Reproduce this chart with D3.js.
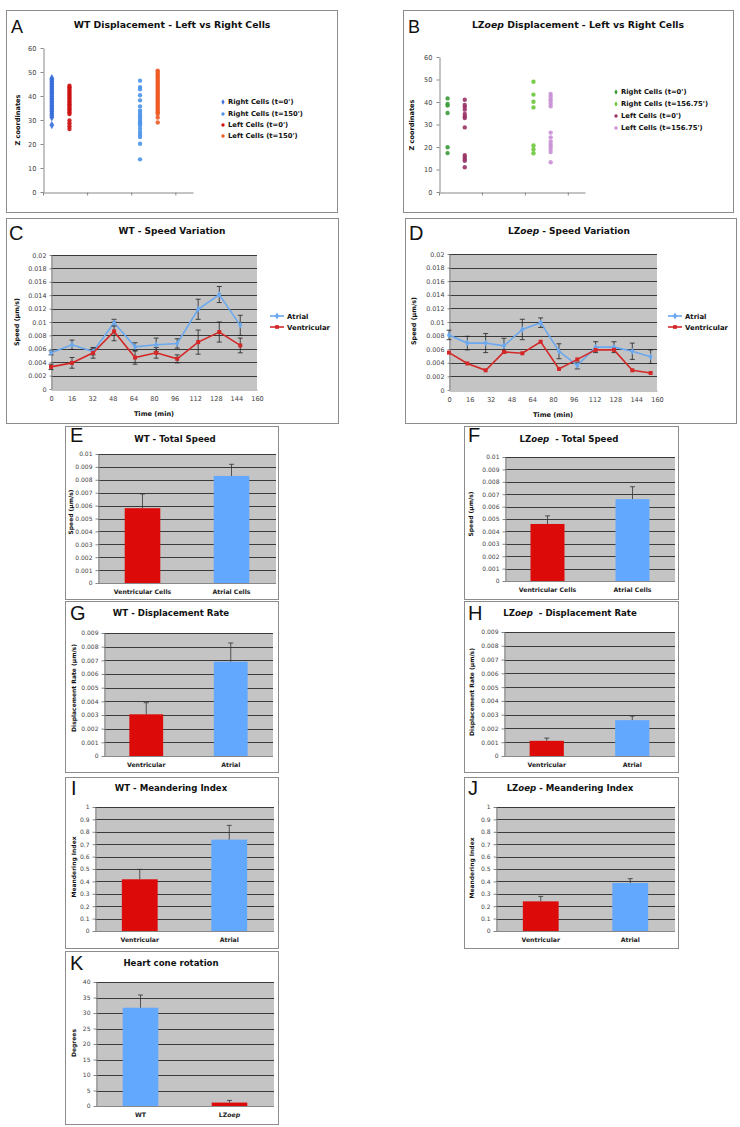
<!DOCTYPE html>
<html><head><meta charset="utf-8">
<script src="https://cdn.jsdelivr.net/npm/d3@7"></script>
<style>body{margin:0;background:#fff}svg{display:block}</style>
</head><body>
<svg id="c" width="740" height="1127"></svg>
<script>
// ---------------- DATA ----------------
// Panel A (WT) z coordinates
const aRightT0 = [47.4, 46.8, 46.1, 45.4, 44.7, 44.0, 43.3, 42.6, 41.9, 41.2, 40.5, 39.8, 39.1, 38.4, 37.7, 37.0, 36.3, 35.6, 34.9, 34.2, 33.5, 32.7, 31.9, 31.1, 27.9];
const aLeftT0 = [44.3, 43.6, 42.9, 42.2, 41.5, 40.8, 40.1, 39.4, 38.7, 38.0, 37.3, 36.6, 35.9, 35.2, 34.5, 33.8, 33.1, 32.5, 29.8, 28.6, 27.4, 26.2];
const aRightT150 = [46.4, 43.7, 42.8, 40.3, 38.2, 35.7, 34.0, 32.9, 31.9, 31.0, 30.1, 29.2, 28.6, 27.7, 26.4, 25.0, 23.9, 22.9, 20.1, 13.6];
const aLeftT150 = [50.6, 50.0, 49.3, 48.6, 47.9, 47.2, 46.5, 45.8, 45.1, 44.4, 43.7, 43.0, 42.3, 41.6, 40.9, 40.2, 39.5, 38.8, 38.1, 37.4, 36.7, 36.0, 35.3, 34.6, 33.9, 33.2, 32.5, 31.0, 29.0];
const aLabels = ["Right Cells (t=0')", "Right Cells (t=150')", "Left Cells (t=0')", "Left Cells (t=150')"];
// Panel B (LZoep) z coordinates
const bRightT0 = [41.6, 39.1, 38.4, 35.1, 19.9, 17.3];
const bLeftT0 = [41.0, 38.7, 37.8, 36.6, 34.7, 33.6, 32.9, 28.7, 16.4, 15.6, 14.7, 13.9, 11.0];
const bRightT156 = [49.0, 43.3, 40.1, 37.6, 20.7, 19.0, 17.2];
const bLeftT156 = [43.6, 42.5, 41.3, 40.4, 39.3, 38.1, 26.4, 24.3, 22.5, 21.3, 20.3, 19.1, 17.8, 13.2];
const bLabels = ["Right Cells (t=0')", "Right Cells (t=156.75')", "Left Cells (t=0')", "Left Cells (t=156.75')"];
const zTicks = [0, 10, 20, 30, 40, 50, 60];
// x position of each series (legend order: Right t0, Right t-end, Left t0, Left t-end)
const groupPos = [0.2, 2.2, 0.6, 2.6];
const groupTicks = [0, 1, 2, 3];

// Panel C (WT speed variation)
const cTime = [0, 16.3, 32.7, 49, 65.3, 81.7, 98, 114.3, 130.7, 147];
const cAtrial = [0.0054, 0.0066, 0.0056, 0.0099, 0.0063, 0.0066, 0.0068, 0.0119, 0.0141, 0.0095];
const cAtrialErr = [0.0003, 0.0007, 0.0005, 0.0005, 0.0006, 0.001, 0.0007, 0.0015, 0.0012, 0.0015];
const cVentricular = [0.0033, 0.0039, 0.0054, 0.0086, 0.0047, 0.0054, 0.0045, 0.007, 0.0085, 0.0065];
const cVentricularErr = [0.0004, 0.0008, 0.0008, 0.0014, 0.001, 0.0008, 0.0006, 0.0018, 0.0015, 0.0011];
// Panel D (LZoep speed variation)
const dTime = [0, 14.1, 28.2, 42.3, 56.4, 70.5, 84.6, 98.7, 112.8, 126.9, 141, 155.1];
const dAtrial = [0.0081, 0.0069, 0.0069, 0.0065, 0.0089, 0.0099, 0.0057, 0.0036, 0.0063, 0.0063, 0.0057, 0.0049];
const dAtrialErr = [0.0007, 0.001, 0.0014, 0.0011, 0.0015, 0.0007, 0.0011, 0.0005, 0.0008, 0.0008, 0.0012, 0.001];
const dVentricular = [0.0055, 0.0039, 0.0029, 0.0056, 0.0054, 0.0071, 0.0031, 0.0045, 0.0059, 0.0059, 0.0029, 0.0025];
const speedTicks = [0, 0.002, 0.004, 0.006, 0.008, 0.01, 0.012, 0.014, 0.016, 0.018, 0.02];
const timeTicks = [0, 16, 32, 48, 64, 80, 96, 112, 128, 144, 160];
const lineLabels = ["Atrial", "Ventricular"];

// Bar panels
const cellCats = ["Ventricular Cells", "Atrial Cells"];
const shortCats = ["Ventricular", "Atrial"];
const genoCats = ["WT", "LZoep"];
const eValues = [0.0058, 0.0083], eErr = [0.0011, 0.0009];
const fValues = [0.0046, 0.0066], fErr = [0.00065, 0.001];
const gValues = [0.00305, 0.0069], gErr = [0.00085, 0.00137];
const hValues = [0.0011, 0.0026], hErr = [0.0002, 0.0003];
const iValues = [0.417, 0.737], iErr = [0.08, 0.115];
const jValues = [0.239, 0.387], jErr = [0.04, 0.035];
const kValues = [31.7, 1.1], kErr = [4.1, 0.7];
const totalSpeedTicks = [0, 0.001, 0.002, 0.003, 0.004, 0.005, 0.006, 0.007, 0.008, 0.009, 0.01];
const dispTicks = [0, 0.001, 0.002, 0.003, 0.004, 0.005, 0.006, 0.007, 0.008, 0.009];
const meanderTicks = [0, 0.1, 0.2, 0.3, 0.4, 0.5, 0.6, 0.7, 0.8, 0.9, 1];
const degreeTicks = [0, 5, 10, 15, 20, 25, 30, 35, 40];

// ---------------- STYLE ----------------
const FONT = "'DejaVu Sans', Verdana, sans-serif";
const LFONT = "'Liberation Sans', Arial, sans-serif";
const RED = "#dd0a0a", BLUE = "#62a8ff", GRAY = "#c4c4c4", GRID = "#3a3a3a";
const fmt = d => String(+(+d).toFixed(4));

const svg = d3.select("#c");
svg.append("rect").attr("width", 740).attr("height", 1127).attr("fill", "#fff");

function box(x0, y0, x1, y1) {
  svg.append("rect").attr("x", x0 + 0.5).attr("y", y0 + 0.5)
    .attr("width", x1 - x0).attr("height", y1 - y0)
    .attr("fill", "#fff").attr("stroke", "#8c8c8c").attr("stroke-width", 1);
}
function letter(s, x, y, size) {
  svg.append("text").attr("x", x).attr("y", y).attr("font-family", LFONT)
    .attr("font-size", size).attr("fill", "#111").text(s);
}
function title(parts, cx, y, size) {
  const t = svg.append("text").attr("x", cx).attr("y", y).attr("text-anchor", "middle")
    .attr("font-family", FONT).attr("font-weight", "bold").attr("font-size", size)
    .attr("fill", "#111").style("white-space", "pre");
  parts.forEach(p => t.append("tspan").attr("font-style", p.i ? "italic" : "normal").text(p.t));
}
const lz = rest => [{t: "LZ"}, {t: "oep", i: 1}, {t: rest}];
function ylabel(s, x, cy, size) {
  svg.append("text").attr("transform", `translate(${x + 2.4},${cy}) rotate(-90)`)
    .attr("text-anchor", "middle").attr("font-family", FONT).attr("font-weight", "bold")
    .attr("font-size", size || 6.3).attr("fill", "#111").text(s);
}
function styleAxis(a, col) {
  a.select(".domain").attr("stroke", col || "#888");
  a.selectAll(".tick line").attr("stroke", col || "#888");
  a.selectAll("text").attr("font-family", FONT).attr("font-size", 6.2).attr("fill", "#444");
}

// ---------------- SCATTER PANELS ----------------
function scatterPanel(c, series, labels) {
  const g = svg.append("g");
  const x = d3.scaleLinear().domain([0, 3.4]).range([c.x0, c.x1]);
  const y = d3.scaleLinear().domain([0, 60]).range([c.yb, c.yt]);
  const ay = g.append("g").attr("transform", `translate(${c.x0 + 0.5},0)`)
    .call(d3.axisLeft(y).tickValues(zTicks).tickSize(3).tickSizeOuter(0).tickPadding(4).tickFormat(fmt));
  const ax = g.append("g").attr("transform", `translate(0,${c.yb + 0.5})`)
    .call(d3.axisBottom(x).tickValues(groupTicks).tickSize(3).tickSizeOuter(0).tickFormat(""));
  styleAxis(ay); styleAxis(ax);
  ay.selectAll("text").attr("font-size", 6.6);
  series.forEach((s, k) => {
    g.append("g").selectAll("path").data(s.values).join("path")
      .attr("d", d3.symbol(s.shape, s.shape === d3.symbolDiamond ? 20 : 15)())
      .attr("transform", d => `translate(${x(groupPos[k])},${y(d)})`)
      .attr("fill", s.color).attr("fill-opacity", 0.9);
    const ly = c.legY[k];
    g.append("path").attr("d", d3.symbol(s.legShape || d3.symbolCircle, 9)())
      .attr("transform", `translate(${c.legX},${ly})`).attr("fill", s.color);
    g.append("text").attr("x", c.legX + 5).attr("y", ly + 2.4)
      .attr("font-family", FONT).attr("font-weight", "bold").attr("font-size", 6.8)
      .attr("fill", "#111").text(labels[k]);
  });
}

box(6, 10, 337, 212);
letter("A", 11, 33, 18);
title([{t: "WT Displacement - Left vs Right Cells"}], 172, 28, 9.3);
ylabel("Z coordinates", 18, 120, 6.6);
scatterPanel({x0: 43, x1: 193, yb: 192, yt: 48, legX: 223, legY: [102, 114, 125, 136]}, [
  {values: aRightT0, color: "#3a6fdc", shape: d3.symbolDiamond, legShape: d3.symbolDiamond},
  {values: aRightT150, color: "#4c95ea", shape: d3.symbolCircle},
  {values: aLeftT0, color: "#cc1010", shape: d3.symbolCircle},
  {values: aLeftT150, color: "#ee5a24", shape: d3.symbolCircle}
], aLabels);

box(403, 10, 733, 212);
letter("B", 408, 33, 18);
title(lz(" Displacement - Left vs Right Cells"), 578, 28, 9.3);
ylabel("Z coordinates", 412, 125, 6.6);
scatterPanel({x0: 439, x1: 585, yb: 192, yt: 57, legX: 616, legY: [92, 104, 116, 128]}, [
  {values: bRightT0, color: "#3a9a3a", shape: d3.symbolCircle, legShape: d3.symbolDiamond},
  {values: bRightT156, color: "#6cc63a", shape: d3.symbolCircle, legShape: d3.symbolDiamond},
  {values: bLeftT0, color: "#993366", shape: d3.symbolCircle},
  {values: bLeftT156, color: "#c98fd6", shape: d3.symbolCircle, legShape: d3.symbolSquare}
], bLabels);

// ---------------- LINE PANELS ----------------
function linePanel(c, time, series) {
  const g = svg.append("g");
  const x = d3.scaleLinear().domain([0, 160]).range([c.x0, c.x1]);
  const y = d3.scaleLinear().domain([0, 0.02]).range([c.yb, c.yt]);
  g.append("rect").attr("x", c.x0).attr("y", c.yt).attr("width", c.x1 - c.x0)
    .attr("height", c.yb - c.yt).attr("fill", GRAY);
  g.append("g").selectAll("line").data(speedTicks.slice(1)).join("line")
    .attr("x1", c.x0).attr("x2", c.x1).attr("y1", d => Math.round(y(d)) + 0.5).attr("y2", d => Math.round(y(d)) + 0.5)
    .attr("stroke", GRID).attr("stroke-width", 1);
  const ay = g.append("g").attr("transform", `translate(${c.x0 + 0.5},0)`)
    .call(d3.axisLeft(y).tickValues(speedTicks).tickSize(2).tickSizeOuter(0).tickPadding(3).tickFormat(fmt));
  const ax = g.append("g").attr("transform", `translate(0,${c.yb + 0.5})`)
    .call(d3.axisBottom(x).tickValues(timeTicks).tickSize(0).tickSizeOuter(0).tickPadding(7).tickFormat(fmt));
  styleAxis(ay); styleAxis(ax);
  ax.selectAll("text").attr("font-size", 6.6);
  ay.selectAll("text").attr("font-size", 6.4);
  series.forEach(s => {
    const pts = time.map((t, i) => [t, s.values[i]]);
    g.append("path").datum(pts).attr("fill", "none").attr("stroke", s.color).attr("stroke-width", 1.6)
      .attr("d", d3.line().x(d => x(d[0])).y(d => y(d[1])));
    if (s.err) {
      const eg = g.append("g").attr("stroke", "#222").attr("stroke-width", 0.8);
      time.forEach((t, i) => {
        const xx = x(t), lo = y(s.values[i] - s.err[i]), hi = y(s.values[i] + s.err[i]);
        eg.append("line").attr("x1", xx).attr("x2", xx).attr("y1", lo).attr("y2", hi);
        eg.append("line").attr("x1", xx - 2.5).attr("x2", xx + 2.5).attr("y1", lo).attr("y2", lo);
        eg.append("line").attr("x1", xx - 2.5).attr("x2", xx + 2.5).attr("y1", hi).attr("y2", hi);
      });
    }
  });
  series.forEach(s => {
    g.append("g").selectAll("path").data(time.map((t, i) => [t, s.values[i]])).join("path")
      .attr("d", d3.symbol(s.shape, s.shape === d3.symbolSquare ? 16 : 14)())
      .attr("transform", d => `translate(${x(d[0])},${y(d[1])})`).attr("fill", s.color);
  });
  series.forEach((s, k) => {
    const ly = c.legY[k];
    g.append("line").attr("x1", c.legX).attr("x2", c.legX + 14).attr("y1", ly).attr("y2", ly)
      .attr("stroke", s.color).attr("stroke-width", 1.6);
    g.append("path").attr("d", d3.symbol(s.shape, 14)()).attr("transform", `translate(${c.legX + 7},${ly})`).attr("fill", s.color);
    g.append("text").attr("x", c.legX + 17).attr("y", ly + 2.5).attr("font-family", FONT)
      .attr("font-weight", "bold").attr("font-size", 6.9).attr("fill", "#111").text(lineLabels[k]);
  });
  g.append("text").attr("x", (c.x0 + c.x1) / 2).attr("y", c.yb + 27).attr("text-anchor", "middle")
    .attr("font-family", FONT).attr("font-weight", "bold").attr("font-size", 6.6).attr("fill", "#111").text("Time (min)");
}

box(6, 218, 338, 423);
letter("C", 9, 240, 20);
title([{t: "WT - Speed Variation"}], 172, 234, 9);
ylabel("Speed (µm/s)", 17, 322, 6.4);
linePanel({x0: 51, x1: 257, yb: 389, yt: 255, legX: 270, legY: [316, 327]}, cTime, [
  {values: cAtrial, err: cAtrialErr, color: "#6aa8f0", shape: d3.symbolDiamond},
  {values: cVentricular, err: cVentricularErr, color: "#d42828", shape: d3.symbolSquare}
]);

box(405, 218, 736, 423);
letter("D", 409, 240, 20);
title(lz(" - Speed Variation"), 569, 234, 9);
ylabel("Speed (µm/s)", 414, 321, 6.4);
linePanel({x0: 449, x1: 657, yb: 390, yt: 254, legX: 668, legY: [316, 327]}, dTime, [
  {values: dAtrial, err: dAtrialErr, color: "#6aa8f0", shape: d3.symbolDiamond},
  {values: dVentricular, color: "#d42828", shape: d3.symbolSquare}
]);

// ---------------- BAR PANELS ----------------
function barPanel(c, cats, values, errs, ticks, colors) {
  const g = svg.append("g");
  const x = d3.scaleBand().domain(cats).range([c.x0, c.x1]).paddingInner(0.6).paddingOuter(0.3);
  const y = d3.scaleLinear().domain([0, ticks[ticks.length - 1]]).range([c.yb, c.yt]);
  g.append("rect").attr("x", c.x0).attr("y", c.yt).attr("width", c.x1 - c.x0)
    .attr("height", c.yb - c.yt).attr("fill", GRAY);
  g.append("g").selectAll("line").data(ticks.slice(1)).join("line")
    .attr("x1", c.x0).attr("x2", c.x1).attr("y1", d => Math.round(y(d)) + 0.5).attr("y2", d => Math.round(y(d)) + 0.5)
    .attr("stroke", GRID).attr("stroke-width", 1);
  const ay = g.append("g").attr("transform", `translate(${c.x0 + 0.5},0)`)
    .call(d3.axisLeft(y).tickValues(ticks).tickSize(3).tickSizeOuter(0).tickPadding(3).tickFormat(fmt));
  styleAxis(ay);
  ay.selectAll("text").attr("font-size", 6);
  g.append("line").attr("x1", c.x0).attr("x2", c.x1).attr("y1", c.yb + 0.5).attr("y2", c.yb + 0.5).attr("stroke", "#888");
  g.append("g").selectAll("rect").data(cats).join("rect")
    .attr("x", d => x(d)).attr("width", x.bandwidth())
    .attr("y", (d, i) => y(values[i])).attr("height", (d, i) => c.yb - y(values[i]))
    .attr("fill", (d, i) => colors[i]);
  const eg = g.append("g").attr("stroke", "#333").attr("stroke-width", 0.8);
  cats.forEach((d, i) => {
    const xx = x(d) + x.bandwidth() / 2, v = y(values[i]), t = y(values[i] + errs[i]);
    eg.append("line").attr("x1", xx).attr("x2", xx).attr("y1", v).attr("y2", t);
    eg.append("line").attr("x1", xx - 2.5).attr("x2", xx + 2.5).attr("y1", t).attr("y2", t);
  });
  cats.forEach((d, i) => {
    const t = g.append("text").attr("x", x(d) + x.bandwidth() / 2).attr("y", c.yb + 11)
      .attr("text-anchor", "middle").attr("font-family", FONT).attr("font-weight", "bold")
      .attr("font-size", 6.2).attr("fill", "#222");
    if (d === "LZoep") { t.append("tspan").text("LZ"); t.append("tspan").attr("font-style", "italic").text("oep"); }
    else t.text(d);
  });
}

box(65, 426, 278, 599);
letter("E", 70, 442, 20);
title([{t: "WT - Total Speed"}], 175, 442, 8.6);
ylabel("Speed (µm/s)", 71, 512, 6);
barPanel({x0: 98, x1: 276, yb: 583, yt: 454}, cellCats, eValues, eErr, totalSpeedTicks, [RED, BLUE]);

box(464, 426, 678, 599);
letter("F", 468, 442, 20);
title(lz("  - Total Speed"), 569, 442, 8.6);
ylabel("Speed (µm/s)", 471, 514, 6);
barPanel({x0: 505, x1: 675, yb: 581, yt: 457}, cellCats, fValues, fErr, totalSpeedTicks, [RED, BLUE]);

box(65, 601, 278, 772);
letter("G", 70, 620, 20);
title([{t: "WT - Displacement Rate"}], 171, 616, 8.6);
ylabel("Displacement Rate (µm/s)", 74, 688, 6);
barPanel({x0: 104, x1: 273, yb: 756, yt: 633}, shortCats, gValues, gErr, dispTicks, [RED, BLUE]);

box(464, 601, 678, 772);
letter("H", 468, 620, 20);
title(lz("  - Displacement Rate"), 570, 616, 8.6);
ylabel("Displacement Rate (µm/s)", 472, 692, 6);
barPanel({x0: 504, x1: 675, yb: 756, yt: 632}, shortCats, hValues, hErr, dispTicks, [RED, BLUE]);

box(65, 777, 278, 948);
letter("I", 71, 795, 20);
title([{t: "WT - Meandering Index"}], 171, 791, 8.6);
ylabel("Meandering Index", 74, 867, 6);
barPanel({x0: 95, x1: 274, yb: 931, yt: 807}, shortCats, iValues, iErr, meanderTicks, [RED, BLUE]);

box(464, 777, 678, 948);
letter("J", 468, 795, 20);
title(lz(" - Meandering Index"), 570, 791, 8.6);
ylabel("Meandering Index", 472, 868, 6);
barPanel({x0: 496, x1: 675, yb: 931, yt: 807}, shortCats, jValues, jErr, meanderTicks, [RED, BLUE]);

box(65, 951, 278, 1124);
letter("K", 70, 970, 20);
title([{t: "Heart cone rotation"}], 171, 966, 8.6);
ylabel("Degrees", 74, 1043, 6);
barPanel({x0: 96, x1: 274, yb: 1106, yt: 982}, genoCats, kValues, kErr, degreeTicks, [BLUE, RED]);
</script>
</body></html>
